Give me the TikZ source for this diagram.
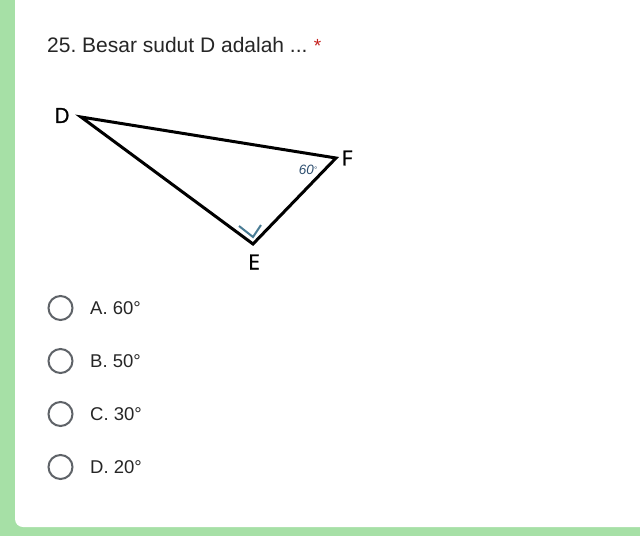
\documentclass[tikz,border=0pt]{standalone}
\usepackage{fontspec}
\setmainfont{Liberation Sans}
\newfontfamily\lblfont[FakeBold=1.2]{Open Sans}
\definecolor{bggreen}{HTML}{A6E0A6}
\definecolor{txtgray}{HTML}{262626}
\definecolor{radiogray}{HTML}{5F6368}
\definecolor{reqred}{HTML}{C5221F}
\definecolor{anglecol}{HTML}{2E4F70}
\definecolor{markcol}{HTML}{4A7C94}
\frenchspacing
\tikzset{
  vlabel/.style={font=\lblfont\fontsize{21}{21}\selectfont, text=black, inner sep=0pt},
  radio/.style={circle, draw=radiogray, line width=2pt, minimum size=24pt, inner sep=0pt},
  opttext/.style={anchor=west, font=\fontsize{18.5}{18.5}\selectfont, text=txtgray, inner sep=0pt},
}
\begin{document}
\begin{tikzpicture}[x=1pt,y=-1pt]
\useasboundingbox (0,0) rectangle (640,536);
\fill[bggreen] (0,0) rectangle (640,536);
\fill[white, rounded corners=8pt] (15,-20) rectangle (660,527);
% title
\node[anchor=base west, inner sep=0pt, font=\fontsize{21}{21}\selectfont, text=txtgray] (title) at (47,52) {25. Besar sudut D adalah ...};
\node[anchor=base west, inner sep=0pt, font=\fontsize{19}{19}\selectfont, text=reqred] (star) at (title.base east) {\hspace{6pt}*};
% triangle
\coordinate (D) at (81,117);
\coordinate (F) at (336,158);
\coordinate (E) at (253,244);
\draw[line width=3pt, line join=miter] (D) -- (F) -- (E) -- cycle;
\draw[markcol, line width=2pt] (239,226) -- (253,237) -- (261,225);
\node[vlabel] (lD) at (62,115.5) {D};
\node[vlabel] (lF) at (347,158) {F};
\node[vlabel] (lE) at (254,262) {E};
\node[inner sep=0pt, font=\fontsize{13.5}{13.5}\selectfont\itshape, text=anglecol] (ang) at (308,170) {60\raisebox{2pt}{\fontsize{8}{8}\selectfont °}};
% options
\node[radio] (r1) at (60.5,308) {};
\node[radio] (r2) at (60.5,361) {};
\node[radio] (r3) at (60.5,414) {};
\node[radio] (r4) at (60.5,467) {};
\node[opttext] (o1) at (90,308) {A. 60°};
\node[opttext] (o2) at (90,361) {B. 50°};
\node[opttext] (o3) at (90,414) {C. 30°};
\node[opttext] (o4) at (90,467) {D. 20°};
\end{tikzpicture}
\end{document}
